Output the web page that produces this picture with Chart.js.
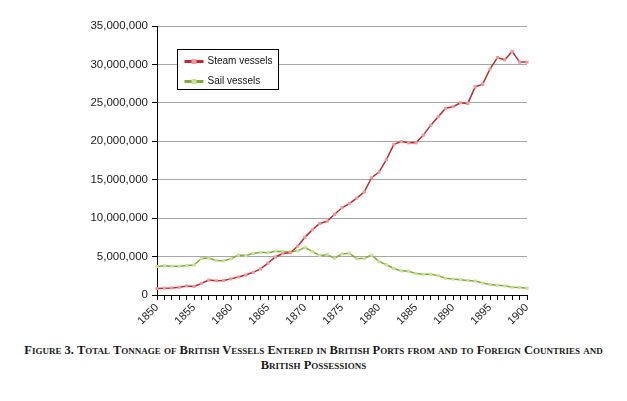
<!DOCTYPE html>
<html>
<head>
<meta charset="utf-8">
<script src="https://cdn.jsdelivr.net/npm/chart.js@4.4.1/dist/chart.umd.min.js"></script>
<style>
  html, body { margin: 0; padding: 0; background: #fff; }
  #wrap { position: relative; width: 627px; height: 330px; }
  #caption {
    position: absolute; left: 0; top: 343px; width: 627px;
    text-align: center; font-family: "Liberation Serif", "DejaVu Serif", serif;
    font-variant: small-caps; font-size: 12.5px; line-height: 15px; color: #1a1a1a;
    font-weight: bold;
  }
</style>
</head>
<body>
<div id="wrap"><canvas id="c"></canvas></div>
<div id="caption">Figure 3. Total Tonnage of British Vessels Entered in British Ports from and to Foreign Countries and<br>British Possessions</div>
<script>
const years = [];
for (let y = 1850; y <= 1900; y++) years.push(String(y));

const steamVessels = [
  0.83, 0.88, 0.92, 1.0, 1.18, 1.12, 1.5, 1.95, 1.85, 1.9,
  2.1, 2.35, 2.6, 2.95, 3.4, 4.15, 4.95, 5.4, 5.5, 6.35,
  7.5, 8.5, 9.3, 9.6, 10.5, 11.35, 11.9, 12.6, 13.4, 15.26,
  16.0, 17.6, 19.6, 19.96, 19.8, 19.8, 20.8, 22.1, 23.2, 24.3,
  24.5, 25.0, 24.9, 27.1, 27.4, 29.4, 30.9, 30.6, 31.7, 30.3,
  30.3
].map(v => v * 1e6);

const sailVessels = [
  3.7, 3.8, 3.75, 3.75, 3.85, 3.9, 4.75, 4.8, 4.5, 4.45,
  4.7, 5.2, 5.15, 5.4, 5.55, 5.5, 5.7, 5.65, 5.6, 5.75,
  6.2, 5.65, 5.15, 5.25, 4.78, 5.35, 5.44, 4.73, 4.78, 5.18,
  4.38, 3.94, 3.45, 3.14, 3.1, 2.79, 2.7, 2.7, 2.52, 2.17,
  2.08, 1.99, 1.9, 1.81, 1.55, 1.37, 1.28, 1.19, 1.02, 0.97,
  0.88
].map(v => v * 1e6);

const yTickValues = [0, 5e6, 10e6, 15e6, 20e6, 25e6, 30e6, 35e6];
const seriesLabels = ["Steam vessels", "Sail vessels"];

const FONT = '"Liberation Sans", Arial, sans-serif';

const boxLegend = {
  id: 'boxLegend',
  afterDraw(chart) {
    const ctx = chart.ctx;
    const ca = chart.chartArea;
    const x0 = ca.left + 20.5, y0 = ca.top + 23.5, w = 101, h = 40;
    ctx.save();
    ctx.fillStyle = '#fff';
    ctx.fillRect(x0, y0, w, h);
    ctx.strokeStyle = '#000';
    ctx.lineWidth = 1;
    ctx.strokeRect(x0, y0, w, h);
    chart.data.datasets.forEach((ds, i) => {
      const cy = y0 + 12 + i * 20;
      ctx.strokeStyle = ds.borderColor;
      ctx.lineWidth = 3;
      ctx.beginPath();
      ctx.moveTo(x0 + 7, cy);
      ctx.lineTo(x0 + 26, cy);
      ctx.stroke();
      ctx.fillStyle = ds.pointBackgroundColor;
      ctx.fillRect(x0 + 14, cy - 2.5, 5, 5);
      ctx.fillStyle = '#111';
      ctx.font = '10px ' + FONT;
      ctx.textBaseline = 'middle';
      ctx.textAlign = 'left';
      ctx.fillText(ds.label, x0 + 30, cy);
    });
    ctx.restore();
  }
};

new Chart(document.getElementById('c'), {
  type: 'line',
  data: {
    labels: years,
    datasets: [
      {
        label: seriesLabels[0],
        data: steamVessels,
        borderColor: '#c0282f',
        borderWidth: 1.5,
        pointStyle: 'rect',
        pointRadius: 2.2,
        pointBackgroundColor: '#ec9aa0',
        pointBorderColor: '#ec9aa0',
        pointBorderWidth: 0,
        tension: 0
      },
      {
        label: seriesLabels[1],
        data: sailVessels,
        borderColor: '#82ab38',
        borderWidth: 1.5,
        pointStyle: 'rect',
        pointRadius: 2.2,
        pointBackgroundColor: '#c9e09c',
        pointBorderColor: '#c9e09c',
        pointBorderWidth: 0,
        tension: 0
      }
    ]
  },
  options: {
    responsive: true,
    maintainAspectRatio: false,
    animation: false,
    layout: { padding: { top: 26, right: 100, left: 0, bottom: 0 } },
    plugins: { legend: { display: false }, tooltip: { enabled: false } },
    scales: {
      x: {
        type: 'category',
        offset: false,
        border: { color: '#000', width: 1 },
        grid: { drawOnChartArea: false, drawTicks: true, tickLength: 5, tickColor: '#000' },
        ticks: {
          autoSkip: false,
          minRotation: 45,
          maxRotation: 45,
          padding: 1,
          color: '#1a1a1a',
          font: { family: FONT, size: 11 },
          callback: function (v, i) { const l = this.getLabelForValue(v); return (+l % 5 === 0) ? l : ''; }
        },
        afterFit(scale) { scale.height = 35; }
      },
      y: {
        min: 0,
        max: 35e6,
        border: { color: '#000', width: 1 },
        grid: { color: '#a6a6a6', lineWidth: 1, tickLength: 5, tickColor: '#000' },
        afterBuildTicks(scale) { scale.ticks = yTickValues.map(v => ({ value: v })); },
        ticks: {
          padding: 4,
          color: '#1a1a1a',
          font: { family: FONT, size: 11.5 },
          callback: v => v.toLocaleString('en-US')
        },
        afterFit(scale) { scale.width = 157; }
      }
    }
  },
  plugins: [boxLegend]
});
</script>
</body>
</html>
